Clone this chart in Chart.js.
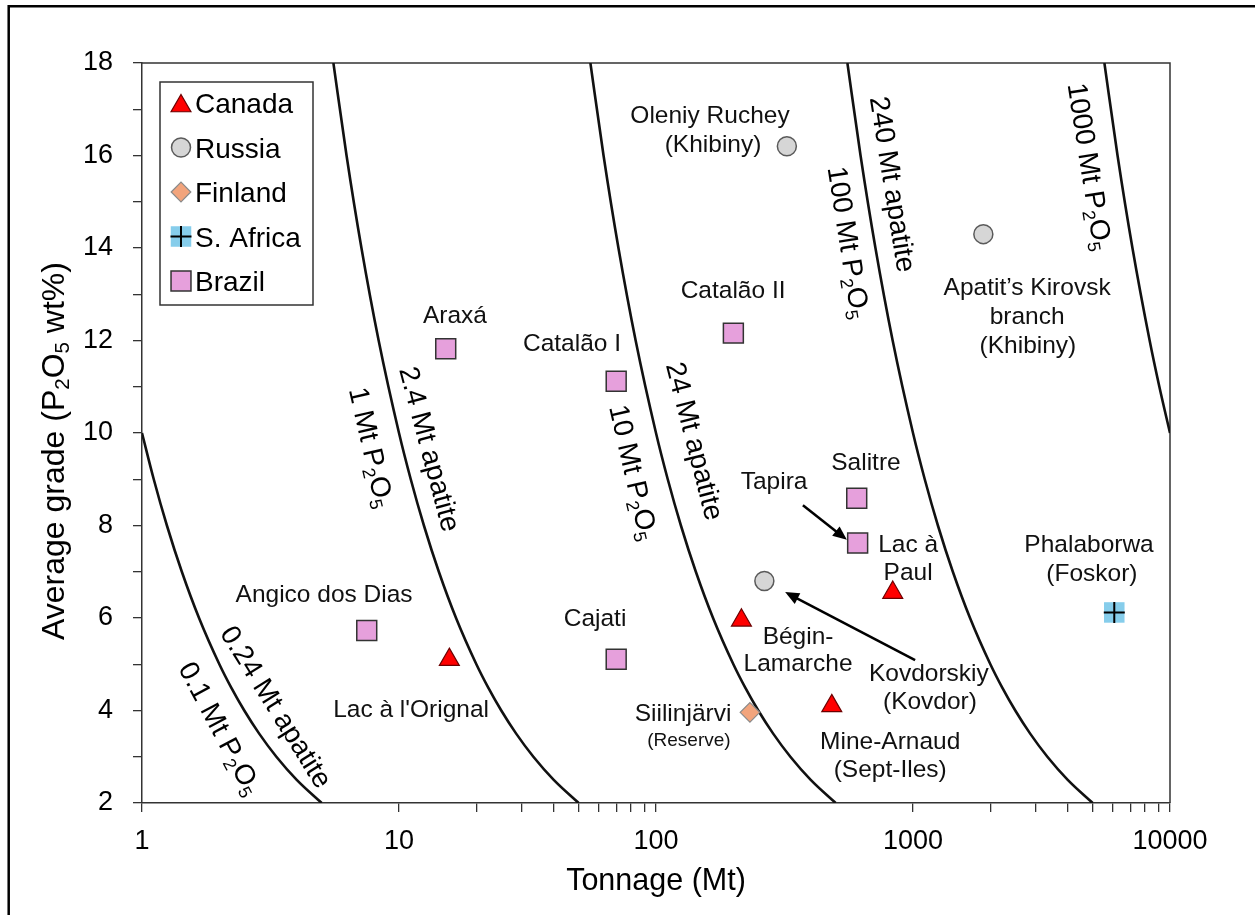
<!DOCTYPE html>
<html><head><meta charset="utf-8">
<script src="https://cdn.jsdelivr.net/npm/chart.js@4.4.1/dist/chart.umd.min.js"></script>
<style>html,body{margin:0;padding:0;background:#fff;}canvas{display:block;}</style>
</head><body>
<canvas id="c" width="1255" height="915"></canvas>
<script>
// ---------- data (tonnage in Mt, average grade in wt% P2O5) ----------
const canadaTonnage = [15.7, 215, 483, 834];
const canadaGrade   = [5.1, 5.95, 4.1, 6.55];
const russiaTonnage = [323, 1878, 264];
const russiaGrade   = [16.2, 14.3, 6.8];
const finlandTonnage = [232];
const finlandGrade   = [3.96];
const safricaTonnage = [6070];
const safricaGrade   = [6.12];
const brazilTonnage = [7.49, 15.2, 70, 70, 200, 604, 609];
const brazilGrade   = [5.73, 11.82, 11.12, 5.11, 12.16, 8.59, 7.62];

// iso-P2O5-content curves (grade vs tonnage)
const curveGrades     = [18, 16, 14, 12, 10, 9, 8, 7, 6, 5, 4.5, 4, 3.5, 3, 2.5, 2];
const tonnage1Mt      = [5.556, 6.25, 7.143, 8.333, 10, 11.11, 12.5, 14.29, 16.67, 20, 22.22, 25, 28.57, 33.33, 40, 50];
const tonnage10Mt     = [55.56, 62.5, 71.43, 83.33, 100, 111.1, 125, 142.9, 166.7, 200, 222.2, 250, 285.7, 333.3, 400, 500];
const tonnage100Mt    = [555.6, 625, 714.3, 833.3, 1000, 1111, 1250, 1429, 1667, 2000, 2222, 2500, 2857, 3333, 4000, 5000];
const grades0p1Mt     = [10, 9, 8, 7, 6, 5, 4.5, 4, 3.5, 3, 2.5, 2];
const tonnage0p1Mt    = [1, 1.111, 1.25, 1.429, 1.667, 2, 2.222, 2.5, 2.857, 3.333, 4, 5];
const grades1000Mt    = [18, 16, 14, 12, 11, 10];
const tonnage1000Mt   = [5556, 6250, 7143, 8333, 9091, 10000];

// axis ticks
const xMajorTicks = [1, 10, 100, 1000, 10000];
const xMinorTicks = [20, 30, 40, 50, 60, 70, 80, 90, 2000, 3000, 4000, 5000, 6000, 7000, 8000, 9000];
const yTicks = [2,3,4,5,6,7,8,9,10,11,12,13,14,15,16,17,18];
const yLabelled = [2,4,6,8,10,12,14,16,18];

// ---------- annotation layout ----------
const FONT = '"Liberation Sans", Arial, Helvetica, sans-serif';
const siteLabels = [
  {text: "Angico dos Dias", x: 5.11, y: 6.54},
  {text: "Lac à l'Orignal", x: 11.14, y: 4.05},
  {text: "Araxá", x: 16.5, y: 12.57},
  {text: "Catalão I", x: 47.1, y: 11.97},
  {text: "Catalão II", x: 199.5, y: 13.11},
  {text: "Oleniy Ruchey", x: 162.2, y: 16.90},
  {text: "(Khibiny)", x: 166.7, y: 16.27},
  {text: "Apatit’s Kirovsk", x: 2780, y: 13.18},
  {text: "branch", x: 2780, y: 12.55},
  {text: "(Khibiny)", x: 2800, y: 11.92},
  {text: "Salitre", x: 656, y: 9.39},
  {text: "Tapira", x: 288, y: 8.98},
  {text: "Lac à", x: 957, y: 7.62},
  {text: "Paul", x: 957, y: 7.02},
  {text: "Bégin-", x: 357, y: 5.63},
  {text: "Lamarche", x: 357, y: 5.05},
  {text: "Kovdorskiy", x: 1153, y: 4.83},
  {text: "(Kovdor)", x: 1164, y: 4.23},
  {text: "Siilinjärvi", x: 127.4, y: 3.97},
  {text: "(Reserve)", x: 134.3, y: 3.38, size: 19},
  {text: "Mine-Arnaud", x: 815, y: 3.36},
  {text: "(Sept-Iles)", x: 815, y: 2.76},
  {text: "Cajati", x: 57.9, y: 6.02},
  {text: "Phalaborwa", x: 4842, y: 7.62},
  {text: "(Foskor)", x: 4966, y: 6.99}
];
const curveLabels = [
  {text: "0.1 Mt P_2O_5", x: 2.03, y: 3.62, angle: 62},
  {text: "0.24 Mt apatite", x: 3.35, y: 4.09, angle: 58},
  {text: "1 Mt P_2O_5", x: 7.87, y: 9.69, angle: 77},
  {text: "2.4 Mt apatite", x: 13.28, y: 9.66, angle: 75},
  {text: "10 Mt P_2O_5", x: 82.4, y: 9.15, angle: 77},
  {text: "24 Mt apatite", x: 142.7, y: 9.83, angle: 75.5},
  {text: "100 Mt P_2O_5", x: 566, y: 14.12, angle: 81},
  {text: "240 Mt apatite", x: 841, y: 15.38, angle: 81},
  {text: "1000 Mt P_2O_5", x: 4909, y: 15.76, angle: 81}
];
const arrows = [
  {x1: 373, y1: 8.44, x2: 553, y2: 7.69},
  {x1: 1019, y1: 5.09, x2: 318, y2: 6.56}
];

// ---------- datasets ----------
const pts = (T, G) => T.map((t, i) => ({x: t, y: G[i]}));
const styleCanada  = {pointStyle: 'triangle', pointRadius: 11.5, backgroundColor: '#FF0000', borderColor: '#6b0000', borderWidth: 1.2};
const styleRussia  = {pointStyle: 'circle', pointRadius: 9.5, backgroundColor: '#D6D6D6', borderColor: '#5a5a5a', borderWidth: 1.5};
const styleFinland = {pointStyle: 'rectRot', pointRadius: 9.8, backgroundColor: '#F2A47C', borderColor: '#8a8a8a', borderWidth: 1.2};
const styleSAfBox  = {pointStyle: 'rect', pointRadius: 14.5, backgroundColor: '#86CDEB', borderColor: '#86CDEB', borderWidth: 0};
const styleSAfPlus = {pointStyle: 'cross', pointRadius: 10.5, backgroundColor: 'rgba(0,0,0,0)', borderColor: '#000', borderWidth: 2};
const styleBrazil  = {pointStyle: 'rect', pointRadius: 14.1, backgroundColor: '#E6A0DC', borderColor: '#333', borderWidth: 1.5};

const sc = (label, T, G, st) => Object.assign({label, type: 'scatter', data: pts(T, G), showLine: false, pointHoverRadius: st.pointRadius}, st);
const curve = (label, T, G) => ({label, type: 'line', data: pts(T, G), showLine: true, pointRadius: 0,
  borderColor: '#111', borderWidth: 2.6, fill: false, cubicInterpolationMode: 'monotone', backgroundColor: '#111'});

const datasets = [
  sc('S. Africa +', safricaTonnage, safricaGrade, styleSAfPlus),
  sc('S. Africa', safricaTonnage, safricaGrade, styleSAfBox),
  sc('Canada', canadaTonnage, canadaGrade, styleCanada),
  sc('Russia', russiaTonnage, russiaGrade, styleRussia),
  sc('Finland', finlandTonnage, finlandGrade, styleFinland),
  sc('Brazil', brazilTonnage, brazilGrade, styleBrazil),
  curve('0.1 Mt P2O5', tonnage0p1Mt, grades0p1Mt),
  curve('1 Mt P2O5', tonnage1Mt, curveGrades),
  curve('10 Mt P2O5', tonnage10Mt, curveGrades),
  curve('100 Mt P2O5', tonnage100Mt, curveGrades),
  curve('1000 Mt P2O5', tonnage1000Mt, grades1000Mt)
];
const legendEntries = [
  {label: 'Canada', styles: [styleCanada]},
  {label: 'Russia', styles: [styleRussia]},
  {label: 'Finland', styles: [styleFinland]},
  {label: 'S. Africa', styles: [styleSAfBox, styleSAfPlus]},
  {label: 'Brazil', styles: [styleBrazil]}
];

// ---------- drawing helpers ----------
function parseRich(s) {
  const out = [];
  let buf = '';
  for (let i = 0; i < s.length; i++) {
    if (s[i] === '_' && i + 1 < s.length) {
      if (buf) { out.push({t: buf, sub: false}); buf = ''; }
      out.push({t: s[i + 1], sub: true}); i++;
    } else buf += s[i];
  }
  if (buf) out.push({t: buf, sub: false});
  return out;
}
function drawRich(ctx, str, cx, cy, angleDeg, size, color) {
  const parts = parseRich(str);
  const subSize = size * 0.64;
  ctx.save();
  ctx.translate(cx, cy);
  ctx.rotate(angleDeg * Math.PI / 180);
  ctx.fillStyle = color || '#111';
  ctx.textBaseline = 'alphabetic';
  ctx.textAlign = 'left';
  let w = 0;
  parts.forEach(p => { ctx.font = (p.sub ? subSize : size) + 'px ' + FONT; p.w = ctx.measureText(p.t).width; w += p.w; });
  let x = -w / 2;
  const base = size * 0.36;
  parts.forEach(p => {
    ctx.font = (p.sub ? subSize : size) + 'px ' + FONT;
    ctx.fillText(p.t, x, p.sub ? base + size * 0.18 : base);
    x += p.w;
  });
  ctx.restore();
}
function drawMarker(ctx, st, x, y) {
  ctx.save();
  ctx.fillStyle = st.backgroundColor;
  ctx.strokeStyle = st.borderColor;
  ctx.lineWidth = st.borderWidth;
  const H = (window.Chart && Chart.helpers) ? Chart.helpers : null;
  if (H && H.drawPoint) {
    H.drawPoint(ctx, {pointStyle: st.pointStyle, radius: st.pointRadius, rotation: 0, borderWidth: st.borderWidth}, x, y);
  }
  ctx.restore();
}
function drawArrow(ctx, x1, y1, x2, y2) {
  const a = Math.atan2(y2 - y1, x2 - x1);
  const L = 14, W = 6;
  ctx.save();
  ctx.strokeStyle = '#000'; ctx.fillStyle = '#000'; ctx.lineWidth = 2.5;
  ctx.beginPath(); ctx.moveTo(x1, y1);
  ctx.lineTo(x2 - Math.cos(a) * L * 0.8, y2 - Math.sin(a) * L * 0.8); ctx.stroke();
  ctx.beginPath(); ctx.moveTo(x2, y2);
  ctx.lineTo(x2 - Math.cos(a) * L - Math.sin(a) * W, y2 - Math.sin(a) * L + Math.cos(a) * W);
  ctx.lineTo(x2 - Math.cos(a) * L + Math.sin(a) * W, y2 - Math.sin(a) * L - Math.cos(a) * W);
  ctx.closePath(); ctx.fill();
  ctx.restore();
}

const decor = {
  id: 'decor',
  beforeDatasetsDraw(chart) {
    const ctx = chart.ctx, a = chart.chartArea;
    ctx.save();
    ctx.strokeStyle = '#333'; ctx.lineWidth = 1.5;
    ctx.beginPath();
    ctx.moveTo(a.left, a.top); ctx.lineTo(a.right, a.top); ctx.lineTo(a.right, a.bottom);
    ctx.stroke();
    ctx.restore();
  },
  afterDatasetsDraw(chart) {
    const ctx = chart.ctx, a = chart.chartArea, xs = chart.scales.x, ys = chart.scales.y;
    curveLabels.forEach(l => drawRich(ctx, l.text, xs.getPixelForValue(l.x), ys.getPixelForValue(l.y), l.angle, 28, '#000'));
    siteLabels.forEach(l => drawRich(ctx, l.text, xs.getPixelForValue(l.x), ys.getPixelForValue(l.y), 0, l.size || 24.5, '#111'));
    arrows.forEach(r => drawArrow(ctx, xs.getPixelForValue(r.x1), ys.getPixelForValue(r.y1), xs.getPixelForValue(r.x2), ys.getPixelForValue(r.y2)));
    // legend
    const lx = a.left + 18, ly = a.top + 19, lw = 153, lh = 223;
    ctx.save();
    ctx.fillStyle = '#fff'; ctx.fillRect(lx, ly, lw, lh);
    ctx.strokeStyle = '#333'; ctx.lineWidth = 1.5; ctx.strokeRect(lx, ly, lw, lh);
    ctx.restore();
    legendEntries.forEach((e, i) => {
      const cy = ly + 21 + i * 44.5;
      e.styles.forEach(st => drawMarker(ctx, st, lx + 21, cy + (st.pointStyle === 'triangle' ? 3 : 0)));
      ctx.save();
      ctx.font = '28px ' + FONT; ctx.fillStyle = '#000'; ctx.textAlign = 'left'; ctx.textBaseline = 'alphabetic';
      ctx.fillText(e.label, lx + 35, cy + 28 * 0.36);
      ctx.restore();
    });
  },
  afterDraw(chart) {
    const ctx = chart.ctx, a = chart.chartArea;
    drawRich(ctx, 'Tonnage (Mt)', (a.left + a.right) / 2, 879, 0, 30.5, '#000');
    drawRich(ctx, 'Average grade (P_2O_5 wt%)', 52, (a.top + a.bottom) / 2 + 18, -90, 32, '#000');
    ctx.save();
    ctx.strokeStyle = '#000'; ctx.lineWidth = 2.5;
    ctx.beginPath(); ctx.moveTo(8.7, 915); ctx.lineTo(8.7, 6.3); ctx.lineTo(1255, 6.3); ctx.stroke();
    ctx.restore();
  }
};

const tickFont = {family: FONT, size: 27};
new Chart(document.getElementById('c'), {
  type: 'scatter',
  data: {datasets},
  options: {
    responsive: false, animation: false, devicePixelRatio: 1, events: [],
    layout: {padding: {left: 0, top: 63, right: 85, bottom: 0}},
    plugins: {legend: {display: false}, tooltip: {enabled: false}},
    scales: {
      x: {
        type: 'logarithmic', min: 1, max: 10000, position: 'bottom',
        afterFit: s => { s.height = 112; },
        afterBuildTicks: s => {
          s.ticks = xMajorTicks.concat(xMinorTicks).sort((p, q) => p - q).map(v => ({value: v, major: false}));
        },
        ticks: {autoSkip: false, maxRotation: 0, minRotation: 0, padding: 13, color: '#000', font: tickFont,
          callback: v => xMajorTicks.includes(v) ? String(v) : ''},
        grid: {drawOnChartArea: false, drawTicks: true, tickLength: 9, color: '#333', lineWidth: 1.3},
        border: {display: true, color: '#333', width: 1.5},
        title: {display: false}
      },
      y: {
        type: 'linear', min: 2, max: 18,
        afterFit: s => { s.width = 142; },
        afterBuildTicks: s => { s.ticks = yTicks.map(v => ({value: v})); },
        ticks: {autoSkip: false, padding: 20, color: '#000', font: tickFont,
          callback: v => yLabelled.includes(v) ? String(v) : ''},
        grid: {drawOnChartArea: false, drawTicks: true, tickLength: 9, color: '#333', lineWidth: 1.3},
        border: {display: true, color: '#333', width: 1.5},
        title: {display: false}
      }
    }
  },
  plugins: [decor]
});
</script>
</body></html>
